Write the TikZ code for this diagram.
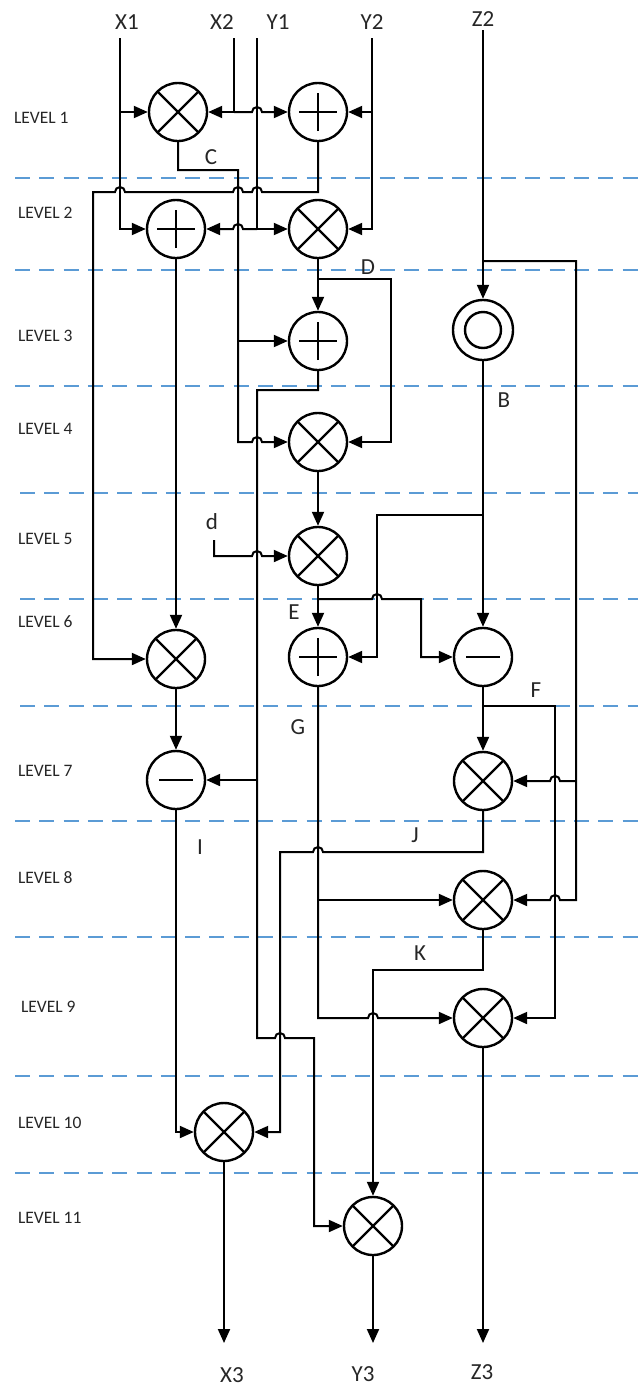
\documentclass[tikz,border=0pt]{standalone}
\usepackage{fontspec}
\setmainfont{Carlito}
\usetikzlibrary{arrows.meta}
\definecolor{lvlblue}{HTML}{5B9BD5}
\definecolor{txt}{HTML}{262626}
\begin{document}
\begin{tikzpicture}[x=1pt,y=-1pt,line width=2pt,
  arr/.style={-{Triangle[length=14pt,width=12pt]}},
  lvl/.style={draw=lvlblue,line width=1.7pt,dash pattern=on 15pt off 9.3pt},
  lvltext/.style={anchor=west,inner sep=0pt,text=txt,font=\fontsize{17.5}{20}\selectfont},
  sig/.style={inner sep=0pt,text=txt,font=\fontsize{23}{27}\selectfont},
  op/.style={circle,draw,line width=2.4pt,minimum size=58pt,inner sep=0pt,fill=white},
  mult/.style={op,path picture={\draw[line width=2.2pt]
      (path picture bounding box.north west) -- (path picture bounding box.south east)
      (path picture bounding box.north east) -- (path picture bounding box.south west);}},
  plus/.style={op,path picture={\draw[line width=2.4pt]
      ([xshift=-19pt]path picture bounding box.center) -- ([xshift=19pt]path picture bounding box.center)
      ([yshift=-19pt]path picture bounding box.center) -- ([yshift=19pt]path picture bounding box.center);}},
  minus/.style={op,path picture={\draw[line width=2.6pt]
      ([xshift=-17pt]path picture bounding box.center) -- ([xshift=17pt]path picture bounding box.center);}},
  ring/.style={op,minimum size=60pt,path picture={\draw[line width=2.4pt]
      (path picture bounding box.center) circle[radius=18pt];}},
]
\useasboundingbox (0,0) rectangle (638,1387);

% level separators
\foreach \yy/\xx in {178/15,270/15,386/15,493/20,599/20,706/20,821/15,937/15,1076/15,1173/15}
  \draw[lvl] (\xx,\yy) -- (638,\yy);

% level labels
\node[lvltext] (lv1) at (13,118) {LEVEL 1};
\node[lvltext] (lv2) at (17,213) {LEVEL 2};
\node[lvltext] (lv3) at (17,336) {LEVEL 3};
\node[lvltext] (lv4) at (17,429) {LEVEL 4};
\node[lvltext] (lv5) at (17,539) {LEVEL 5};
\node[lvltext] (lv6) at (17,622) {LEVEL 6};
\node[lvltext] (lv7) at (17,771) {LEVEL 7};
\node[lvltext] (lv8) at (17,878) {LEVEL 8};
\node[lvltext] (lv9) at (20,1007) {LEVEL 9};
\node[lvltext] (lv10) at (17,1123) {LEVEL 10};
\node[lvltext] (lv11) at (17,1218) {LEVEL 11};

% operator nodes
\node[mult]  (M1)  at (178,112) {};
\node[plus]  (A1)  at (318,112) {};
\node[plus]  (A2)  at (176,229) {};
\node[mult]  (M2)  at (318,229) {};
\node[plus]  (A3)  at (318,341) {};
\node[ring]  (R)   at (483,330) {};
\node[mult]  (M4)  at (318,442) {};
\node[mult]  (M5)  at (318,556) {};
\node[mult]  (M6)  at (176,659) {};
\node[plus]  (A6)  at (318,657) {};
\node[minus] (S6)  at (483,657) {};
\node[minus] (S7)  at (176,780) {};
\node[mult]  (M7)  at (483,781) {};
\node[mult]  (M8)  at (483,900) {};
\node[mult]  (M9)  at (483,1018) {};
\node[mult]  (M10) at (224,1132) {};
\node[mult]  (M11) at (373,1226) {};

% signal labels
\node[sig] (lX1) at (127,22) {X1};
\node[sig] (lX2) at (222,22) {X2};
\node[sig] (lY1) at (278,22) {Y1};
\node[sig] (lY2) at (372,22) {Y2};
\node[sig] (lZ2) at (483,19) {Z2};
\node[sig] (lC) at (211,157) {C};
\node[sig] (lD) at (368,267) {D};
\node[sig] (lB) at (504,400) {B};
\node[sig] (ld) at (212,522) {d};
\node[sig] (lE) at (294,612) {E};
\node[sig] (lF) at (536,690) {F};
\node[sig] (lG) at (298,727) {G};
\node[sig] (lI) at (200,847) {I};
\node[sig] (lJ) at (415,835) {J};
\node[sig] (lK) at (420,953) {K};
\node[sig] (lX3) at (232,1375) {X3};
\node[sig] (lY3) at (363,1374) {Y3};
\node[sig] (lZ3) at (482,1372) {Z3};

% free ends
\coordinate (x1t) at (120,38);
\coordinate (x2t) at (234,38);
\coordinate (y1t) at (257,38);
\coordinate (y2t) at (372,38);
\coordinate (z2t) at (483,30);
\coordinate (dt)  at (214,540);
\coordinate (x3e) at (224,1343);
\coordinate (y3e) at (373,1343);
\coordinate (z3e) at (483,1343);
\coordinate (cx)  at (238,170);
\coordinate (a3v) at (257,390);
\coordinate (zj)  at (483,261);
\coordinate (zr)  at (576,261);

% inputs
\draw[arr] (x1t) |- (A2.west);
\draw[arr] (x1t |- M1.west) -- (M1.west);
\draw[arr] (x2t) |- (M1.east);
\draw[arr] (x2t |- A1.west) -- (252,112) arc[start angle=180,end angle=0,radius=5pt] -- (A1.west);
\draw[arr] (y1t) |- (M2.west);
\draw[arr] (y1t |- A2.east) -- (243,229) arc[start angle=0,end angle=180,radius=5pt] -- (A2.east);
\draw[arr] (y2t) |- (M2.east);
\draw[arr] (y2t |- A1.east) -- (A1.east);
\draw[arr] (z2t) -- (R.north);
\draw[arr] (zj) -- (zr) -- (576,900) -- (560,900) arc[start angle=0,end angle=180,radius=5pt] -- (M8.east);
\draw[arr] (576,781) -- (560,781) arc[start angle=0,end angle=180,radius=5pt] -- (M7.east);

% C
\draw[arr] (M1.south) |- (cx) -- (238,442) -- (252,442) arc[start angle=180,end angle=0,radius=5pt] -- (M4.west);
\draw[arr] (cx |- A3.west) -- (A3.west);

% A1 output
\draw[arr] (A1.south) -- (318,192) -- (262,192) arc[start angle=0,end angle=180,radius=5pt]
  -- (243,192) arc[start angle=0,end angle=180,radius=5pt]
  -- (125,192) arc[start angle=0,end angle=180,radius=5pt]
  -- (93,192) |- (M6.west);

% A2 output
\draw[arr] (A2.south) -- (M6.north);

% M2 output D
\draw[arr] (M2.south) -- (A3.north);
\draw[arr] (318,279) -- (391,279) |- (M4.east);

% A3 output
\draw[arr] (A3.south) -- (318,390) -- (a3v) -- (257,1038) -- (275,1038) arc[start angle=180,end angle=0,radius=5pt] -- (314,1038) |- (M11.west);
\draw[arr] (a3v |- S7.east) -- (S7.east);

% M4, d, M5
\draw[arr] (M4.south) -- (M5.north);
\draw[arr] (dt) |- (252,556) arc[start angle=180,end angle=0,radius=5pt] -- (M5.west);
\draw[arr] (M5.south) -- (A6.north);
\draw[arr] (318,599) -- (372,599) arc[start angle=180,end angle=0,radius=5pt] -- (421,599) |- (S6.west);

% B
\draw[arr] (R.south) -- (S6.north);
\draw[arr] (483,515) -- (377,515) |- (A6.east);

% G
\draw[arr] (A6.south) -- (318,1018) -- (368,1018) arc[start angle=180,end angle=0,radius=5pt] -- (M9.west);
\draw[arr] (318,900) -- (M8.west);

% F
\draw[arr] (S6.south) -- (M7.north);
\draw[arr] (483,706) -- (555,706) |- (M9.east);

% M6, I
\draw[arr] (M6.south) -- (S7.north);
\draw[arr] (S7.south) |- (M10.west);

% J
\draw[arr] (M7.south) -- (483,852) -- (323,852) arc[start angle=0,end angle=180,radius=5pt] -- (280,852) |- (M10.east);

% K
\draw[arr] (M8.south) -- (483,970) -| (M11.north);

% outputs
\draw[arr] (M9.south) -- (z3e);
\draw[arr] (M10.south) -- (x3e);
\draw[arr] (M11.south) -- (y3e);
\end{tikzpicture}
\end{document}
